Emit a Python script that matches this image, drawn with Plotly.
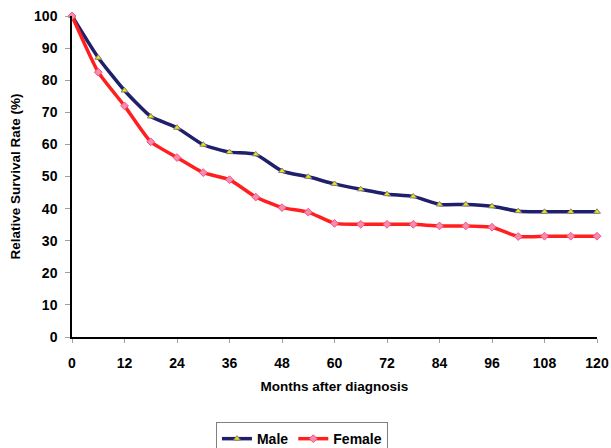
import plotly.graph_objects as go

months = [0, 6, 12, 18, 24, 30, 36, 42, 48, 54, 60, 66, 72, 78, 84, 90, 96, 102, 108, 114, 120]
male = [100, 87.0, 76.8, 68.7, 65.2, 59.9, 57.6, 56.9, 51.7, 49.9, 47.7, 46.0, 44.5, 43.8, 41.3, 41.3, 40.7, 39.2, 39.0, 39.0, 39.0]
female = [100, 82.5, 72.0, 60.8, 55.9, 51.2, 49.0, 43.6, 40.3, 38.9, 35.4, 35.1, 35.1, 35.1, 34.6, 34.6, 34.2, 31.3, 31.4, 31.4, 31.4]
x_ticks = list(range(0, 121, 12))
y_ticks = list(range(0, 101, 10))

font = "Liberation Sans, Arial, sans-serif"

fig = go.Figure()
fig.add_trace(go.Scatter(
    x=months, y=male, name="Male", mode="lines+markers",
    line=dict(color="#1F1F6B", width=3.5, shape="spline", smoothing=0.5),
    marker=dict(symbol="triangle-up", size=6, color="#F2E600", line=dict(color="#808080", width=1)),
    cliponaxis=False,
))
fig.add_trace(go.Scatter(
    x=months, y=female, name="Female", mode="lines+markers",
    line=dict(color="#FF1F1F", width=3.5, shape="spline", smoothing=0.5),
    marker=dict(symbol="diamond", size=6, color="#F28CB0", line=dict(color="#FF5080", width=1)),
    cliponaxis=False,
))

fig.update_layout(
    width=611, height=448,
    margin=dict(l=72, r=14, t=16, b=111, autoexpand=False),
    paper_bgcolor="white", plot_bgcolor="white",
    font=dict(family=font, size=14, color="black"),
    showlegend=True,
    legend=dict(
        orientation="h", x=0.438, xanchor="center", y=-0.265, yanchor="top",
        bordercolor="#808080", borderwidth=1,
        font=dict(family=font, size=14, color="black", weight="bold"),
        itemwidth=30, tracegroupgap=0,
    ),
)
fig.update_xaxes(
    range=[0, 120], tickvals=x_ticks, ticktext=[str(v) for v in x_ticks],
    showgrid=False, zeroline=False, showline=True, linecolor="black", linewidth=1.5,
    ticks="outside", ticklen=4, tickcolor="#A0A0A0", automargin=False,
    ticklabelstandoff=8,
    tickfont=dict(family=font, size=14, weight="bold"),
    title=dict(text="Months after diagnosis", font=dict(family=font, size=13.5, weight="bold"), standoff=12),
)
fig.update_yaxes(
    range=[0, 100], tickvals=y_ticks, ticktext=[str(v) for v in y_ticks],
    showgrid=False, zeroline=False, showline=True, linecolor="black", linewidth=1.5,
    ticks="outside", ticklen=5, tickcolor="#A0A0A0", automargin=False,
    ticklabelstandoff=5,
    tickfont=dict(family=font, size=14, weight="bold"),
    title=dict(text="Relative Survival Rate (%)", font=dict(family=font, size=13.5, weight="bold"), standoff=10),
)

fig.write_html("out.html", config={"displayModeBar": False},
               post_script="document.body.style.margin='0';document.body.style.overflow='hidden';")
